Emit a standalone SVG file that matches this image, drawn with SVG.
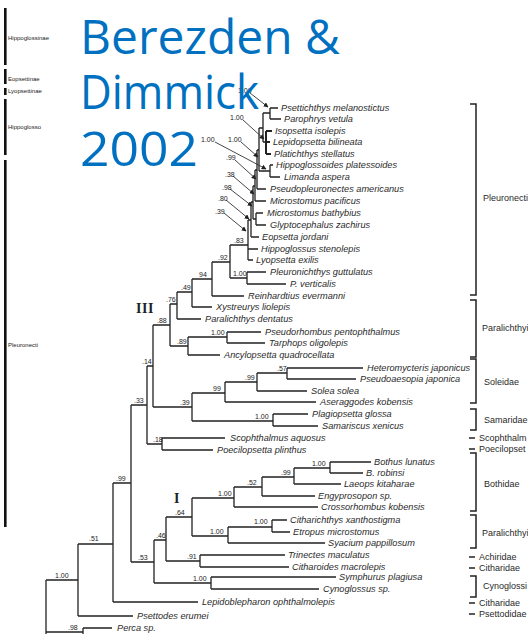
<svg xmlns="http://www.w3.org/2000/svg" width="528" height="634" viewBox="0 0 528 634">
<defs>
<marker id="ah" viewBox="0 0 8 8" refX="7" refY="4" markerWidth="5" markerHeight="5" orient="auto" markerUnits="userSpaceOnUse">
<path d="M0,0 L8,4 L0,8 z" fill="#222"/>
</marker>
<style>
.t{fill:none;stroke:#222;stroke-width:1.3}
.sp{font-family:"Liberation Sans",Arial,sans-serif;font-style:italic;font-size:9.2px;fill:#2a2a2a}
.bs{font-family:"Liberation Sans",Arial,sans-serif;font-size:7px;fill:#222}
.fam{font-family:"Liberation Sans",Arial,sans-serif;font-size:9px;fill:#2a2a2a}
.br{fill:none;stroke:#222;stroke-width:1.5}
.ar{fill:none;stroke:#333;stroke-width:0.9;marker-end:url(#ah)}
.ins{font-family:"Liberation Sans",Arial,sans-serif;font-size:6px;fill:#222}
.bar{fill:#111}
.ttl{font-family:"Open Sans","Noto Sans",sans-serif;font-size:48px;fill:#0070C0}
.rom{font-family:"Liberation Serif","Times New Roman",serif;font-weight:bold;font-size:14px;fill:#222}
</style>
</defs>
<rect width="528" height="634" fill="#fff"/>

<g id="inset">
<rect class="bar" x="4" y="8" width="2.6" height="57"/>
<rect class="bar" x="4" y="69" width="2.6" height="15"/>
<rect class="bar" x="4" y="88" width="2.6" height="7"/>
<rect class="bar" x="4" y="99" width="2.6" height="56"/>
<rect class="bar" x="4" y="160" width="2.6" height="367"/>
<text class="ins" x="8" y="40">Hippoglossinae</text>
<text class="ins" x="8" y="81">Eopsettinae</text>
<text class="ins" x="8" y="93">Lyopsettinae</text>
<text class="ins" x="8" y="129">Hippoglosso</text>
<text class="ins" x="8" y="347">Pleuronecti</text>
</g>

<g id="connectors">
<path class="t" d="M46,580V634M46,580H78M46,632H83M83,628V634M83,628H112"/>
<path class="t" d="M78,544V616M78,544H113M78,616H133"/>
<path class="t" d="M113,483V602M113,483H131M113,602H198"/>
<path class="t" d="M131,405V562M131,405H147M131,562H154"/>
<path class="t" d="M147,366V444M147,366H153M147,444H162"/>
<path class="t" d="M162,438V450M162,438H225M162,450H213"/>
<path class="t" d="M153,325V407M153,325H170M153,407H192"/>
<path class="t" d="M192,393V421M192,393H225M192,421H273"/>
<path class="t" d="M273,414V426M273,414H308M273,426H318"/>
<path class="t" d="M225,382V402M225,382H257M225,402H316"/>
<path class="t" d="M257,373V391M257,373H287M257,391H307"/>
<path class="t" d="M287,368V379M287,368H363M287,379H356"/>
<path class="t" d="M170,304V346M170,304H177M170,346H188"/>
<path class="t" d="M188,337V355M188,337H227M188,355H220"/>
<path class="t" d="M227,332V343M227,332H261M227,343H265"/>
<path class="t" d="M177,292V319M177,292H192M177,319H201"/>
<path class="t" d="M192,279V307M192,279H212M192,307H212"/>
<path class="t" d="M212,262V296M212,262H230M212,296H244"/>
<path class="t" d="M230,245V278M230,245H248M230,278H247"/>
<path class="t" d="M247,272V284M247,272H266M247,284H286"/>
<path class="t" d="M248,220V260M248,220H251M248,249H258M248,260H253"/>
<path class="t" d="M251,202V237M251,202H253M251,237H259"/>
<path class="t" d="M253,186V219M253,186H255M253,219H256"/>
<path class="t" d="M256,213V225M256,213H263M256,225H266"/>
<path class="t" d="M255,170V201M255,170H257M255,201H266"/>
<path class="t" d="M257,150V189M257,150H259M257,189H266"/>
<path class="t" d="M259,128V171M259,128H263M259,171H270"/>
<path class="t" d="M270,165V177M270,165H273M270,177H280"/>
<path class="t" d="M263,113V142M263,113H270M263,142H266"/>
<path class="t" d="M270,108V119M270,108H278M270,119H281"/>
<path class="t" d="M266,131V154M266,131H272M266,142H270M266,154H271" style="stroke-width:2"/>
<path class="t" d="M154,540V583M154,540H166M154,583H211"/>
<path class="t" d="M211,577V589M211,577H336M211,589H319"/>
<path class="t" d="M166,517V561M166,517H192M166,561H200"/>
<path class="t" d="M200,555V567M200,555H285M200,567H289"/>
<path class="t" d="M192,498V536M192,498H234M192,536H228"/>
<path class="t" d="M228,527V543M228,527H272M228,543H325"/>
<path class="t" d="M272,520V532M272,520H287M272,532H290"/>
<path class="t" d="M234,487V507M234,487H262M234,507H318"/>
<path class="t" d="M262,477V496M262,477H294M262,496H315"/>
<path class="t" d="M294,468V484M294,468H330M294,484H341"/>
<path class="t" d="M330,462V473M330,462H371M330,473H363"/>
<path class="ar" d="M250,93L268,107"/>
<path class="ar" d="M243,120L264,139"/>
<path class="ar" d="M241,142L258,157"/>
<path class="ar" d="M215,142L266,169"/>
<path class="ar" d="M235,160L256,179"/>
<path class="ar" d="M233,176L254,194"/>
<path class="ar" d="M230,189L252,206"/>
<path class="ar" d="M226,200L249,219"/>
<path class="ar" d="M224,213L246,231"/>
</g>

<g id="support">
<text class="bs" x="55" y="578">1.00</text>
<text class="bs" x="89" y="541">.51</text>
<text class="bs" x="116" y="481">.99</text>
<text class="bs" x="134" y="403">.33</text>
<text class="bs" x="142" y="364">.14</text>
<text class="bs" x="157" y="323">.88</text>
<text class="bs" x="166" y="302">.76</text>
<text class="bs" x="181" y="290">.49</text>
<text class="bs" x="199" y="277">94</text>
<text class="bs" x="218" y="260">.92</text>
<text class="bs" x="234" y="243">.83</text>
<text class="bs" x="233" y="276">1.00</text>
<text class="bs" x="153" y="442">.18</text>
<text class="bs" x="180" y="405">.39</text>
<text class="bs" x="213" y="391">99</text>
<text class="bs" x="245" y="380">.99</text>
<text class="bs" x="277" y="371">.57</text>
<text class="bs" x="255" y="419">1.00</text>
<text class="bs" x="211" y="335">1.00</text>
<text class="bs" x="177" y="344">.89</text>
<text class="bs" x="138" y="560">.53</text>
<text class="bs" x="156" y="538">.46</text>
<text class="bs" x="187" y="559">.91</text>
<text class="bs" x="193" y="581">1.00</text>
<text class="bs" x="175" y="515">.64</text>
<text class="bs" x="210" y="534">1.00</text>
<text class="bs" x="254" y="524">1.00</text>
<text class="bs" x="218" y="496">1.00</text>
<text class="bs" x="247" y="485">.52</text>
<text class="bs" x="281" y="475">.99</text>
<text class="bs" x="312" y="466">1.00</text>
<text class="bs" x="68" y="630">.98</text>
<text class="bs" x="238" y="93">1.00</text>
<text class="bs" x="230" y="120">1.00</text>
<text class="bs" x="201" y="142">1.00</text>
<text class="bs" x="228" y="142">1.00</text>
<text class="bs" x="226" y="160">.99</text>
<text class="bs" x="225" y="177">.38</text>
<text class="bs" x="222" y="190">.98</text>
<text class="bs" x="218" y="201">.80</text>
<text class="bs" x="215" y="214">.39</text>
</g>

<g id="leaves">
<text class="sp" x="281" y="111">Psettichthys melanostictus</text>
<text class="sp" x="284" y="122">Parophrys vetula</text>
<text class="sp" x="275" y="134">Isopsetta isolepis</text>
<text class="sp" x="273" y="145">Lepidopsetta bilineata</text>
<text class="sp" x="274" y="157">Platichthys stellatus</text>
<text class="sp" x="276" y="168">Hippoglossoides platessoides</text>
<text class="sp" x="284" y="180">Limanda aspera</text>
<text class="sp" x="270" y="192">Pseudopleuronectes americanus</text>
<text class="sp" x="270" y="204">Microstomus pacificus</text>
<text class="sp" x="267" y="216">Microstomus bathybius</text>
<text class="sp" x="270" y="228">Glyptocephalus zachirus</text>
<text class="sp" x="262" y="240">Eopsetta jordani</text>
<text class="sp" x="261" y="252">Hippoglossus stenolepis</text>
<text class="sp" x="256" y="263">Lyopsetta exilis</text>
<text class="sp" x="270" y="275">Pleuronichthys guttulatus</text>
<text class="sp" x="290" y="287">P. verticalis</text>
<text class="sp" x="248" y="299">Reinhardtius evermanni</text>
<text class="sp" x="216" y="310">Xystreurys liolepis</text>
<text class="sp" x="205" y="322">Paralichthys dentatus</text>
<text class="sp" x="265" y="335">Pseudorhombus pentophthalmus</text>
<text class="sp" x="269" y="346">Tarphops oligolepis</text>
<text class="sp" x="224" y="358">Ancylopsetta quadrocellata</text>
<text class="sp" x="367" y="371">Heteromycteris japonicus</text>
<text class="sp" x="360" y="382">Pseudoaesopia japonica</text>
<text class="sp" x="311" y="394">Solea solea</text>
<text class="sp" x="320" y="405">Aseraggodes kobensis</text>
<text class="sp" x="312" y="417">Plagiopsetta glossa</text>
<text class="sp" x="322" y="429">Samariscus xenicus</text>
<text class="sp" x="230" y="441">Scophthalmus aquosus</text>
<text class="sp" x="217" y="453">Poecilopsetta plinthus</text>
<text class="sp" x="374" y="465">Bothus lunatus</text>
<text class="sp" x="366" y="476">B. robinsi</text>
<text class="sp" x="344" y="487">Laeops kitaharae</text>
<text class="sp" x="318" y="499">Engyprosopon sp.</text>
<text class="sp" x="321" y="510">Crossorhombus kobensis</text>
<text class="sp" x="290" y="523">Citharichthys xanthostigma</text>
<text class="sp" x="293" y="535">Etropus microstomus</text>
<text class="sp" x="328" y="546">Syacium pappillosum</text>
<text class="sp" x="288" y="558">Trinectes maculatus</text>
<text class="sp" x="292" y="570">Citharoides macrolepis</text>
<text class="sp" x="339" y="580">Symphurus plagiusa</text>
<text class="sp" x="323" y="592">Cynoglossus sp.</text>
<text class="sp" x="202" y="605">Lepidoblepharon ophthalmolepis</text>
<text class="sp" x="137" y="619">Psettodes erumei</text>
<text class="sp" x="117" y="631">Perca sp.</text>
</g>

<g id="families">
<path class="br" d="M470,104H476V295H470"/>
<text class="fam" x="483" y="201">Pleuronecti</text>
<path class="br" d="M470,300H476V357H470"/>
<text class="fam" x="482" y="331">Paralichthyi</text>
<path class="br" d="M470,359H476V403H470"/>
<text class="fam" x="484" y="385">Soleidae</text>
<path class="br" d="M470,409H476V430H470"/>
<text class="fam" x="484" y="423">Samaridae</text>
<path class="br" d="M469,438H475"/>
<text class="fam" x="479" y="441">Scophthalm</text>
<path class="br" d="M469,449H475"/>
<text class="fam" x="479" y="452">Poecilopset</text>
<path class="br" d="M470,453H476V511H470"/>
<text class="fam" x="484" y="487">Bothidae</text>
<path class="br" d="M470,515H476V548H470"/>
<text class="fam" x="482" y="536">Paralichthyi</text>
<path class="br" d="M469,557H475"/>
<text class="fam" x="479" y="560">Achiridae</text>
<path class="br" d="M469,568H475"/>
<text class="fam" x="479" y="571">Citharidae</text>
<path class="br" d="M470,576H476V597H470"/>
<text class="fam" x="483" y="589">Cynoglossi</text>
<path class="br" d="M469,603H475"/>
<text class="fam" x="479" y="606">Citharidae</text>
<path class="br" d="M469,614H475"/>
<text class="fam" x="479" y="617">Psettodidae</text>
</g>

<g id="numerals">
<text class="rom" x="136" y="313" letter-spacing="0.5">III</text>
<text class="rom" x="174" y="503">I</text>
</g>

<g id="title">
<text class="ttl" x="80" y="54" textLength="260" lengthAdjust="spacingAndGlyphs">Berezden &amp;</text>
<text class="ttl" x="80" y="109" textLength="179" lengthAdjust="spacingAndGlyphs">Dimmick</text>
<text class="ttl" x="80" y="166" textLength="118" lengthAdjust="spacingAndGlyphs">2002</text>
</g>
</svg>
